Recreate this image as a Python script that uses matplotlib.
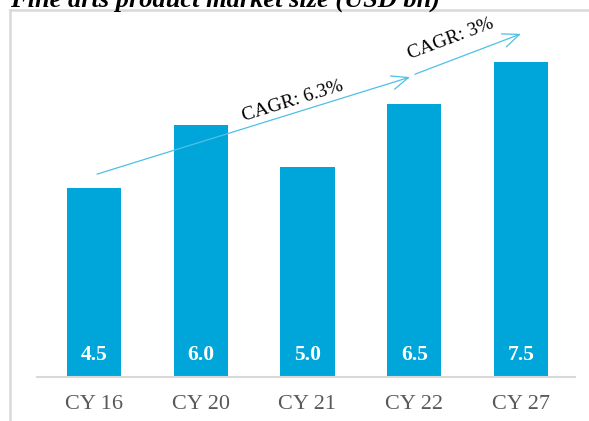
import matplotlib
matplotlib.use("Agg")
import matplotlib.pyplot as plt
from matplotlib.lines import Line2D

categories = ["CY 16", "CY 20", "CY 21", "CY 22", "CY 27"]
values = [4.5, 6.0, 5.0, 6.5, 7.5]
cagr_labels = ["CAGR: 6.3%", "CAGR: 3%"]
title = "Fine arts product market size (USD bn)"

bar_color = "#00A6DA"
arrow_color = "#4EC0E8"
grid_grey = "#D9D9D9"
serif = ["Liberation Serif", "DejaVu Serif"]

fig = plt.figure(figsize=(5.89, 4.21), dpi=100)
W, H = 589, 421
ax = fig.add_axes([37 / W, 44 / H, (575 - 37) / W, 357 / H])

x = list(range(len(categories)))
ax.bar(x, values, width=0.506, color=bar_color, zorder=2)
ax.set_xlim(-0.534, 4.506)
ax.set_ylim(0, 8.5)

for xi, v in zip(x, values):
    ax.text(xi, 0.52, f"{v:.1f}", ha="center", va="center", color="white",
            fontsize=15.5, fontweight="bold", family=serif, zorder=3)

ax.set_xticks(x)
ax.set_xticklabels(categories, family=serif, fontsize=16, color="#595959")
ax.tick_params(axis="x", length=0, pad=13)
ax.set_yticks([])
for s in ["top", "right", "left"]:
    ax.spines[s].set_visible(False)
ax.spines["bottom"].set_color(grid_grey)
ax.spines["bottom"].set_linewidth(1.5)

# growth arrows with their CAGR captions
arrows = [((0.028, 4.83), (2.96, 7.14)), ((3.007, 7.21), (4.0, 8.17))]
caption_pos = [(1.864, 6.57, 17.2), (3.344, 8.05, 20.5)]
for (start, end) in arrows:
    ax.annotate("", xy=end, xytext=start,
                arrowprops=dict(arrowstyle="->,head_length=1.2,head_width=0.5",
                                color=arrow_color, lw=0.9, shrinkA=0, shrinkB=0),
                annotation_clip=False)
for label, (tx, ty, rot) in zip(cagr_labels, caption_pos):
    ax.text(tx, ty, label, ha="center", va="center", rotation=rot,
            rotation_mode="anchor", family=serif, fontsize=14, color="black")

# frame around the chart area
fig.add_artist(Line2D([10 / W, 10 / W], [0, 1 - 10 / H], transform=fig.transFigure,
                      color=grid_grey, lw=1.8))
fig.add_artist(Line2D([10 / W, 1], [1 - 10 / H, 1 - 10 / H], transform=fig.transFigure,
                      color=grid_grey, lw=1.8))

fig.text(10 / W, 1 - 7 / H, title, ha="left", va="baseline", family=serif,
         fontsize=19, fontweight="bold", style="italic")

fig.savefig("out.png", dpi=100)
